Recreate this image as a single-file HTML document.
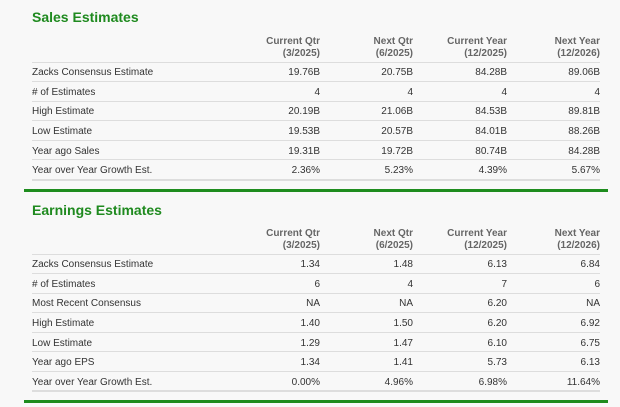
<!DOCTYPE html>
<html><head><meta charset="utf-8"><style>
body{margin:0;width:620px;height:407px;background:#f8f8f8;font-family:"Liberation Sans",sans-serif;position:relative;overflow:hidden}
.t{position:absolute;left:32px;font-size:14px;font-weight:bold;color:#1f8a1f;line-height:16px}
.g{position:absolute;left:24px;width:584px;height:3px;background:#1e8c1e}
table{position:absolute;left:32px;width:568px;border-collapse:collapse;font-size:10px;color:#333}
td,th{padding:0;text-align:right;border-bottom:1px solid #ddd;box-sizing:border-box}
th{color:#666;font-weight:bold;line-height:12px;vertical-align:bottom;padding-bottom:2px;height:27px}
td{height:19.6px;padding-top:2px}
td:first-child,th:first-child{text-align:left}
tr:last-child td{border-bottom:2px solid #ddd}
</style></head><body>
<div class="t" style="top:9px">Sales Estimates</div>
<table style="top:35px">
<colgroup><col style="width:208px"><col style="width:80px"><col style="width:93px"><col style="width:94px"><col style="width:93px"></colgroup>
<tr><th></th><th>Current Qtr<br>(3/2025)</th><th>Next Qtr<br>(6/2025)</th><th>Current Year<br>(12/2025)</th><th>Next Year<br>(12/2026)</th></tr>
<tr><td>Zacks Consensus Estimate</td><td>19.76B</td><td>20.75B</td><td>84.28B</td><td>89.06B</td></tr>
<tr><td># of Estimates</td><td>4</td><td>4</td><td>4</td><td>4</td></tr>
<tr><td>High Estimate</td><td>20.19B</td><td>21.06B</td><td>84.53B</td><td>89.81B</td></tr>
<tr><td>Low Estimate</td><td>19.53B</td><td>20.57B</td><td>84.01B</td><td>88.26B</td></tr>
<tr><td>Year ago Sales</td><td>19.31B</td><td>19.72B</td><td>80.74B</td><td>84.28B</td></tr>
<tr><td>Year over Year Growth Est.</td><td>2.36%</td><td>5.23%</td><td>4.39%</td><td>5.67%</td></tr>
</table>
<div class="g" style="top:189px"></div>
<div class="t" style="top:202px">Earnings Estimates</div>
<table style="top:227px">
<colgroup><col style="width:208px"><col style="width:80px"><col style="width:93px"><col style="width:94px"><col style="width:93px"></colgroup>
<tr><th></th><th>Current Qtr<br>(3/2025)</th><th>Next Qtr<br>(6/2025)</th><th>Current Year<br>(12/2025)</th><th>Next Year<br>(12/2026)</th></tr>
<tr><td>Zacks Consensus Estimate</td><td>1.34</td><td>1.48</td><td>6.13</td><td>6.84</td></tr>
<tr><td># of Estimates</td><td>6</td><td>4</td><td>7</td><td>6</td></tr>
<tr><td>Most Recent Consensus</td><td>NA</td><td>NA</td><td>6.20</td><td>NA</td></tr>
<tr><td>High Estimate</td><td>1.40</td><td>1.50</td><td>6.20</td><td>6.92</td></tr>
<tr><td>Low Estimate</td><td>1.29</td><td>1.47</td><td>6.10</td><td>6.75</td></tr>
<tr><td>Year ago EPS</td><td>1.34</td><td>1.41</td><td>5.73</td><td>6.13</td></tr>
<tr><td>Year over Year Growth Est.</td><td>0.00%</td><td>4.96%</td><td>6.98%</td><td>11.64%</td></tr>
</table>
<div class="g" style="top:400px"></div>
</body></html>
